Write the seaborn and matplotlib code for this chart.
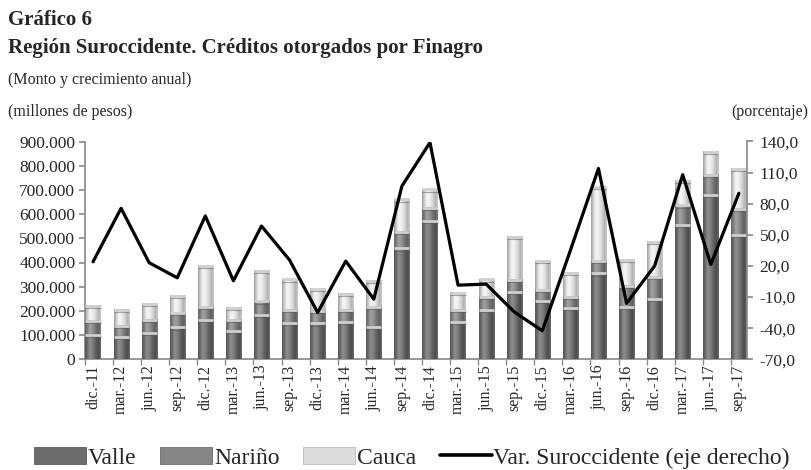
import numpy as np
import pandas as pd
import matplotlib
matplotlib.use("Agg")
import matplotlib.pyplot as plt
from matplotlib.patches import Patch
from matplotlib.lines import Line2D
import matplotlib.ticker as mticker
import seaborn as sns

# ---------------- data ----------------
periods = ["dic.-11", "mar.-12", "jun.-12", "sep.-12", "dic.-12", "mar.-13", "jun.-13", "sep.-13",
           "dic.-13", "mar.-14", "jun.-14", "sep.-14", "dic.-14", "mar.-15", "jun.-15", "sep.-15",
           "dic.-15", "mar.-16", "jun.-16", "sep.-16", "dic.-16", "mar.-17", "jun.-17", "sep.-17"]
valle = [100, 91, 110, 132, 162, 118, 185, 150, 148, 155, 134, 458,
         572, 155, 205, 279, 240, 214, 355, 217, 251, 554, 678, 515]
narino = [58, 48, 52, 58, 55, 44, 54, 55, 53, 48, 83, 68,
          53, 48, 53, 48, 48, 44, 52, 85, 90, 82, 85, 108]
cauca = [63, 64, 66, 72, 169, 51, 126, 125, 89, 66, 107, 135,
         77, 72, 72, 179, 117, 99, 306, 108, 144, 100, 93, 165]
var_suroccidente = [24.0, 75.6, 23.1, 8.6, 68.2, 5.7, 58.5, 25.7, -24.9, 24.7, -12.0, 97.0,
                    139.0, 1.5, 2.5, -24.3, -42.5, 35.0, 114.0, -16.0, 20.0, 108.0, 21.5, 90.0]
left_ticks = [0, 100000, 200000, 300000, 400000, 500000, 600000, 700000, 800000, 900000]
right_ticks = [-70, -40, -10, 20, 50, 80, 110, 140]

df = pd.DataFrame({"periodo": periods,
                   "Valle": np.array(valle) * 1000,
                   "Nariño": np.array(narino) * 1000,
                   "Cauca": np.array(cauca) * 1000,
                   "var": var_suroccidente})
df["pos"] = np.arange(len(df))
df["c_vn"] = df["Valle"] + df["Nariño"]
df["c_all"] = df["c_vn"] + df["Cauca"]

# ---------------- style ----------------
sns.set_theme(style="white")
plt.rcParams["font.family"] = ["Liberation Serif", "DejaVu Serif"]
plt.rcParams["axes.edgecolor"] = "#8c8c8c"

fig = plt.figure(figsize=(8.11, 4.70), dpi=100)
ax = fig.add_axes([85 / 811, 1 - 359.3 / 470, (747 - 85) / 811, (359.3 - 141.5) / 470])

BAR_W = 0.54
layers = [("c_all", "#d9d9d9", [0.62, 0.78, 0.96, 0.93, 0.82, 0.70, 0.80]),
          ("c_vn", "#858585", [0.40, 0.47, 0.64, 0.56, 0.44, 0.38, 0.50]),
          ("Valle", "#6c6c6c", [0.33, 0.40, 0.56, 0.48, 0.36, 0.30, 0.42])]
xp = [0, 0.12, 0.3, 0.5, 0.7, 0.86, 1.0]

z = 2
for col, color, prof in layers:
    before = len(ax.patches)
    sns.barplot(data=df, x="periodo", y=col, color=color, width=BAR_W,
                errorbar=None, ax=ax, saturation=1, zorder=z, edgecolor="none")
    new_patches = ax.patches[before:]
    grad = np.interp(np.linspace(0, 1, 64), xp, prof)[None, :]
    for p in new_patches:
        x0, y0 = p.get_x(), p.get_y()
        w, h = p.get_width(), p.get_height()
        ax.imshow(grad, cmap="gray", vmin=0, vmax=1, aspect="auto",
                  extent=[x0, x0 + w, y0, y0 + h], zorder=z + 0.5,
                  interpolation="bilinear")
        ax.plot([x0, x0 + w], [y0 + h, y0 + h], color="#d0d0d0", lw=2.0,
                zorder=z + 0.7, solid_capstyle="butt")
        ax.plot([x0, x0 + w], [y0 + h - 9000, y0 + h - 9000], color="#5a5a5a", lw=0.8,
                zorder=z + 0.6, alpha=0.5, solid_capstyle="butt")
    z += 1

ax.set_xlim(-0.285, 23.29)
ax.set_ylim(0, 900000)
ax.set_yticks(left_ticks)
ax.yaxis.set_major_formatter(mticker.FuncFormatter(
    lambda v, _: "0" if v == 0 else f"{int(v):,}".replace(",", ".")))
ax.set_xlabel("")
ax.set_ylabel("")
ax.set_xticks(df["pos"])
ax.set_xticklabels(periods, rotation=90, fontsize=11.5)
ax.xaxis.set_minor_locator(mticker.FixedLocator(df["pos"] - 0.285))
ax.tick_params(axis="x", which="major", length=0, pad=4)
ax.tick_params(axis="x", which="minor", length=4, color="#8c8c8c", bottom=True)
ax.tick_params(axis="y", which="major", length=4, color="#8c8c8c", left=True,
               labelsize=12.5, pad=3)
for s in ["top", "right"]:
    ax.spines[s].set_visible(False)
for s in ["left", "bottom"]:
    ax.spines[s].set_color("#8c8c8c")
ax.grid(False)

ax2 = ax.twinx()
sns.lineplot(data=df, x="pos", y="var", color="black", lw=2.3, ax=ax2, zorder=10)
ax2.set_ylim(-70, 140)
ax2.set_xlim(-0.285, 23.29)
ax2.set_yticks(right_ticks)
ax2.yaxis.set_major_formatter(mticker.FuncFormatter(lambda v, _: f"{v:.1f}".replace(".", ",")))
ax2.tick_params(axis="y", which="major", length=4, color="#8c8c8c", right=True,
                labelsize=12.5, pad=5)
ax2.set_xlabel("")
ax2.set_ylabel("")
for s in ["top", "left", "bottom"]:
    ax2.spines[s].set_visible(False)
ax2.spines["right"].set_color("#8c8c8c")
ax2.grid(False)

# ---------------- texts ----------------
fig.text(8 / 811, 1 - 25 / 470, "Gráfico 6", fontsize=15, fontweight="bold", ha="left", va="baseline")
fig.text(8 / 811, 1 - 53 / 470, "Región Suroccidente. Créditos otorgados por Finagro",
         fontsize=15, fontweight="bold", ha="left", va="baseline")
fig.text(8 / 811, 1 - 84 / 470, "(Monto y crecimiento anual)", fontsize=11.5, ha="left", va="baseline")
fig.text(8 / 811, 1 - 116 / 470, "(millones de pesos)", fontsize=11.5, ha="left", va="baseline")
fig.text(808 / 811, 1 - 116 / 470, "(porcentaje)", fontsize=11.5, ha="right", va="baseline")

handles = [Patch(facecolor="#6c6c6c", edgecolor="#4a4a4a", lw=0.5),
           Patch(facecolor="#858585", edgecolor="#5a5a5a", lw=0.5),
           Patch(facecolor="#dcdcdc", edgecolor="#b0b0b0", lw=0.5),
           Line2D([0], [0], color="black", lw=2.6)]
labels = ["Valle", "Nariño", "Cauca", "Var. Suroccidente (eje derecho)"]
fig.legend(handles, labels, loc="center left", bbox_to_anchor=(34 / 811, 1 - 458 / 470),
           ncol=4, frameon=False, fontsize=17, handlelength=2.2, handleheight=0.7,
           handletextpad=0.08, columnspacing=1.0, borderaxespad=0, borderpad=0)

fig.savefig("out.png", dpi=100)
